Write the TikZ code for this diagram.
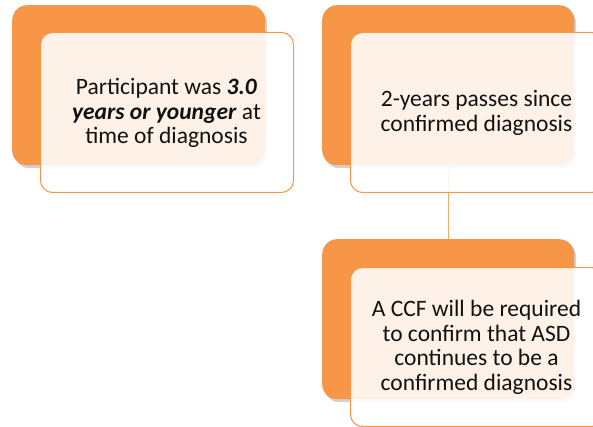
\documentclass[tikz,border=0pt]{standalone}
\usepackage{fontspec}
\setmainfont{Carlito}
\usetikzlibrary{shadows}
\definecolor{acc}{HTML}{F79646}
\definecolor{txtc}{HTML}{111111}
\begin{document}
\begin{tikzpicture}[x=1pt,y=-1pt,
  back/.style={fill=acc, draw=none, rounded corners=15pt, inner sep=0pt, anchor=north west,
    drop shadow={shadow xshift=2pt, shadow yshift=-3pt, opacity=0.3, fill=black!60}},
  front/.style={draw=acc, line width=1pt, fill=white, fill opacity=0.88, rounded corners=12pt, inner sep=0pt, anchor=north west},
  txt/.style={align=center, text=txtc, font=\fontsize{23.5}{24.5}\selectfont, inner sep=0pt},
  link/.style={draw=acc!80, line width=1pt}]
\useasboundingbox (0,0) rectangle (593,427);
\node[back, minimum width=253pt, minimum height=160pt] (b1) at (12,5) {};
\node[back, minimum width=252pt, minimum height=160pt] (b2) at (322,5) {};
\node[back, minimum width=252pt, minimum height=160pt] (b3) at (322,239) {};
\draw[link] (b2.south) -- (b3.north);
\node[front, minimum width=253pt, minimum height=160pt] (f1) at (40,32) {};
\node[front, minimum width=253pt, minimum height=160pt] (f2) at (350,32) {};
\node[front, minimum width=253pt, minimum height=159pt] (f3) at (350,267) {};
\node[txt] (t1) at (166.5,113) {Participant was \textbf{\textit{3.0}}\\\textbf{\textit{years or younger}} at\\time of diagnosis};
\node[txt] (t2) at (476.5,113) {2-years passes since\\confirmed diagnosis};
\node[txt] (t3) at (476.5,347.5) {A CCF will be required\\to confirm that ASD\\continues to be a\\confirmed diagnosis};
\end{tikzpicture}
\end{document}
